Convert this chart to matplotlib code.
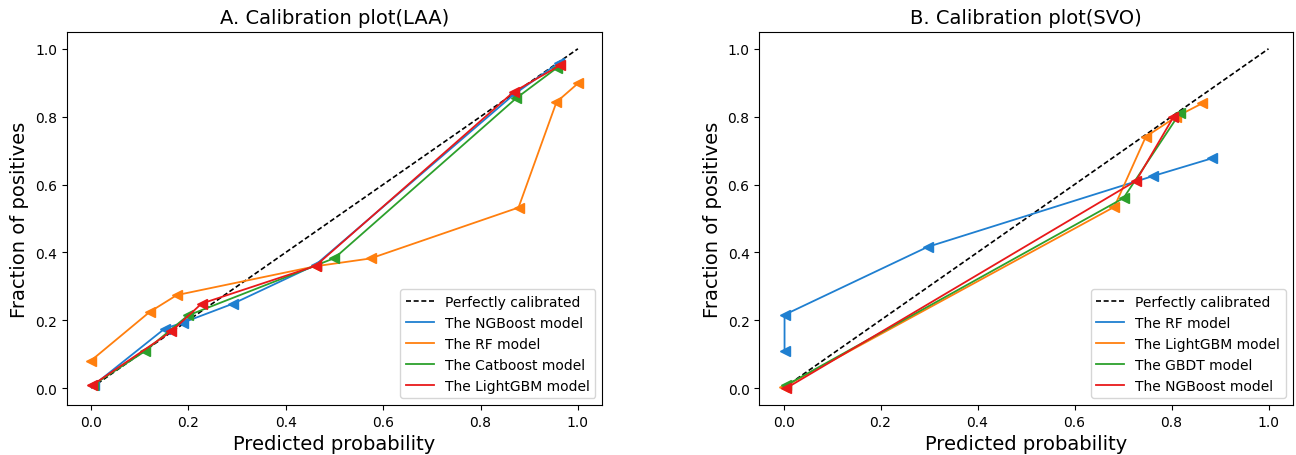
import matplotlib
matplotlib.use("Agg")
import matplotlib.pyplot as plt

# A. LAA
laa_names = ["The NGBoost model", "The RF model", "The Catboost model", "The LightGBM model"]
laa_x = [
    [0.005, 0.151, 0.189, 0.292, 0.461, 0.869, 0.961],
    [0.0, 0.12, 0.176, 0.461, 0.574, 0.878, 0.956, 1.0],
    [0.003, 0.11, 0.199, 0.5, 0.873, 0.957],
    [0.002, 0.165, 0.227, 0.461, 0.868, 0.963],
]
laa_y = [
    [0.008, 0.175, 0.193, 0.249, 0.363, 0.866, 0.959],
    [0.081, 0.224, 0.274, 0.359, 0.382, 0.532, 0.843, 0.898],
    [0.008, 0.108, 0.214, 0.383, 0.854, 0.944],
    [0.008, 0.167, 0.249, 0.36, 0.873, 0.951],
]

# B. SVO
svo_names = ["The RF model", "The LightGBM model", "The GBDT model", "The NGBoost model"]
svo_x = [
    [0.002, 0.002, 0.297, 0.762, 0.883],
    [0.0, 0.682, 0.747, 0.81, 0.863],
    [0.005, 0.701, 0.817],
    [0.006, 0.727, 0.804],
]
svo_y = [
    [0.109, 0.216, 0.416, 0.625, 0.677],
    [0.003, 0.534, 0.741, 0.80, 0.839],
    [0.008, 0.56, 0.81],
    [0.0, 0.611, 0.799],
]

colors = ["#1f7fd0", "#ff7f0e", "#2ca02c", "#e8191a"]


def draw(ax, title, names, xs, ys):
    ax.plot([0, 1], [0, 1], "k--", lw=1.2, dashes=(3, 1.6), label="Perfectly calibrated")
    for name, x, y, c in zip(names, xs, ys, colors):
        ax.plot(x, y, "-", color=c, lw=1.3, label=name)
        ax.plot(x, y, "<", color=c, markersize=7)
    ax.set_title(title, fontsize=14)
    ax.set_xlabel("Predicted probability", fontsize=14)
    ax.set_ylabel("Fraction of positives", fontsize=14)
    ax.legend(loc="lower right", fontsize=10)


fig = plt.figure(figsize=(12.96, 4.56), dpi=100)
ax1 = fig.add_axes([0.0515, 0.1096, 0.4132, 0.8184])
ax2 = fig.add_axes([0.5859, 0.1096, 0.4116, 0.8184])
draw(ax1, "A. Calibration plot(LAA)", laa_names, laa_x, laa_y)
draw(ax2, "B. Calibration plot(SVO)", svo_names, svo_x, svo_y)

fig.savefig("out.png", dpi=100)
